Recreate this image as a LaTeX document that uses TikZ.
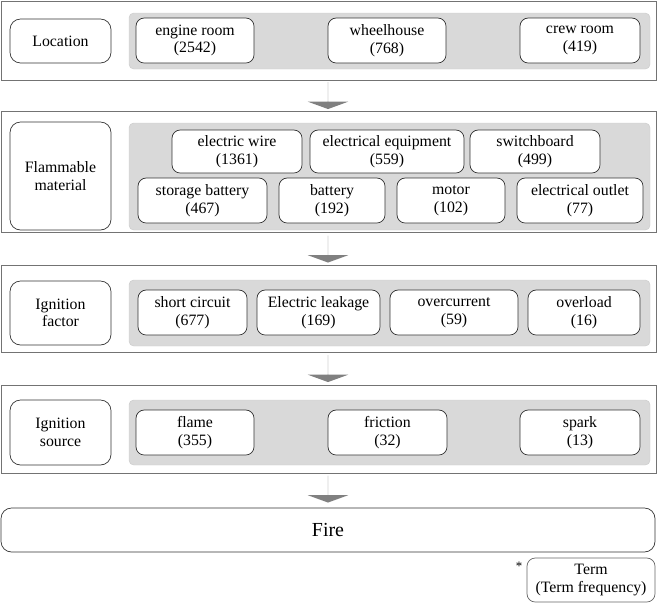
\documentclass[tikz,border=0pt]{standalone}
\usepackage{fontspec}
\setmainfont{Liberation Serif}
\usetikzlibrary{shapes.arrows}

% box from corner (x1,y1) to corner (x2,y2), pixel units
\newcommand{\tbox}[7][term]{%
  \node[#1, minimum width={(#5-#3)*0.03cm}, minimum height={(#6-#4)*0.03cm}]
    (#2) at ({(#3+#5)/2},{(#4+#6)/2}) {#7};}

\begin{document}
\begin{tikzpicture}[x=0.03cm, y=-0.03cm,
    band/.style={draw=black!55, line width=0.8pt, inner sep=0pt},
    area/.style={fill=black!15, draw=black!20, rounded corners=4pt, inner sep=0pt},
    term/.style={draw=black!80, fill=white, rounded corners=7pt, inner sep=0pt,
      align=center, font=\fontsize{13.5}{15}\selectfont, line width=0.6pt},
    label_style/.style={term, rounded corners=9pt},
    step_arrow/.style={single arrow, fill=black!50, draw=none, rotate=-90,
      minimum height={27*0.03cm}, single arrow head extend={20*0.03cm},
      single arrow tip angle=140,
      minimum width={40*0.03cm}, inner sep=0pt, single arrow head indent=0pt}]

  \useasboundingbox (0,0) rectangle (657,609);

  % Location
  \tbox[band]{b1}{1}{1}{656}{80}{}
  \tbox[area]{a1}{129}{13}{650}{69}{}
  \tbox[label_style]{l1}{10}{19}{111}{63}{Location}
  \tbox{t11}{136}{18}{254}{63}{engine room\\(2542)}
  \tbox{t12}{328}{18}{446}{63}{wheelhouse\\(768)}
  \tbox{t13}{520}{18}{640}{63}{crew room\\(419)}

  % Flammable material
  \tbox[band]{b2}{1}{111}{656}{232}{}
  \tbox[area]{a2}{129}{123}{650}{230}{}
  \tbox[label_style]{l2}{10}{122}{111}{230}{Flammable\\material}
  \tbox{t21}{172}{130}{302}{173}{electric wire\\(1361)}
  \tbox{t22}{310}{130}{464}{173}{electrical equipment\\(559)}
  \tbox{t23}{470}{130}{600}{173}{switchboard\\(499)}
  \tbox{t24}{138}{178}{267}{223}{storage battery\\(467)}
  \tbox{t25}{279}{178}{385}{223}{battery\\(192)}
  \tbox{t26}{397}{178}{505}{223}{motor\\(102)}
  \tbox{t27}{517}{178}{643}{223}{electrical outlet\\(77)}

  % Ignition factor
  \tbox[band]{b3}{1}{265}{656}{352}{}
  \tbox[area]{a3}{129}{280}{650}{346}{}
  \tbox[label_style]{l3}{10}{281}{111}{345}{Ignition\\factor}
  \tbox{t31}{138}{290}{247}{335}{short circuit\\(677)}
  \tbox{t32}{257}{290}{380}{335}{Electric leakage\\(169)}
  \tbox{t33}{390}{290}{518}{335}{overcurrent\\(59)}
  \tbox{t34}{528}{290}{640}{335}{overload\\(16)}

  % Ignition source
  \tbox[band]{b4}{1}{385}{656}{473}{}
  \tbox[area]{a4}{129}{400}{650}{465}{}
  \tbox[label_style]{l4}{10}{400}{111}{465}{Ignition\\source}
  \tbox{t41}{136}{410}{254}{455}{flame\\(355)}
  \tbox{t42}{328}{410}{447}{455}{friction\\(32)}
  \tbox{t43}{520}{410}{640}{455}{spark\\(13)}

  % Fire
  \tbox[label_style]{fire}{1}{508}{655}{552}{\fontsize{17}{19}\selectfont Fire}

  % step arrows
  \node[step_arrow] (s1) at (328,95.5) {};
  \node[step_arrow] (s2) at (328,249) {};
  \node[step_arrow] (s3) at (328,368.5) {};
  \node[step_arrow] (s4) at (328,489) {};

  % legend
  \tbox[term, draw=black!60]{legend}{527}{558}{655}{602}{Term\\(Term frequency)}
  \node[font=\fontsize{11}{12}\selectfont] (star) at (519,566) {*};

\end{tikzpicture}
\end{document}
